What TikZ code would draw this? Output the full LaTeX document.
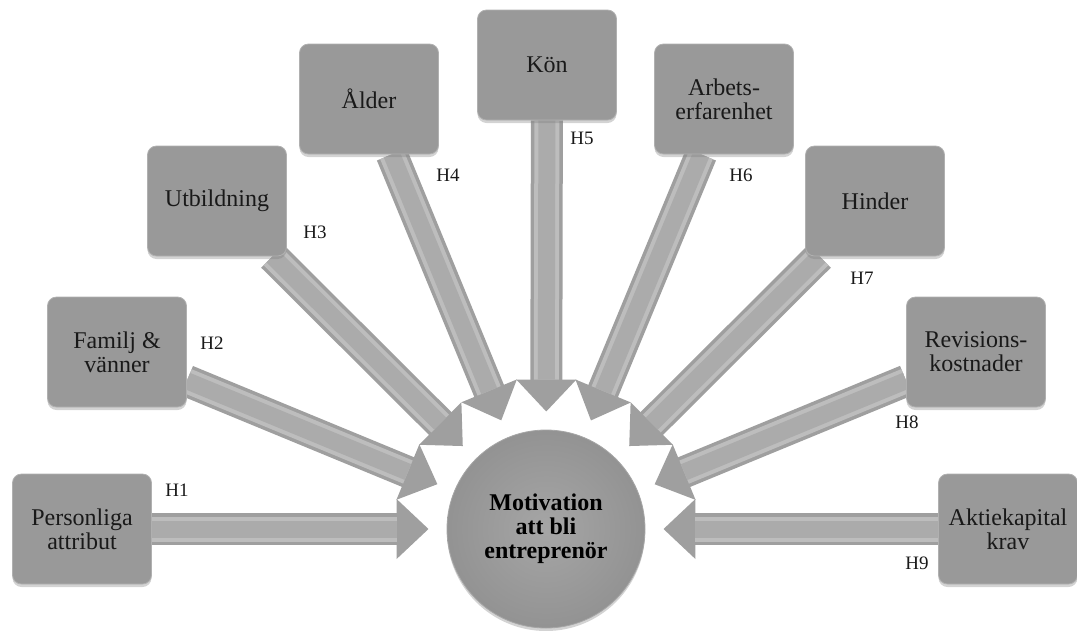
\documentclass[tikz,border=0pt]{standalone}
\usepackage{fontspec}
\setmainfont{Liberation Serif}
\usetikzlibrary{arrows.meta,shadows,backgrounds}

\begin{document}
\begin{tikzpicture}[
    x=1pt, y=-1pt,
    faktor/.style={rectangle, draw=gray!62, line width=0.8pt, fill=gray!80, minimum width=139pt, minimum height=110pt, rounded corners=9pt, align=center, text=black!90, font=\fontsize{24}{24}\selectfont, drop shadow={shadow xshift=0pt, shadow yshift=-3pt, opacity=0.35}},
    mal/.style={circle, draw=gray!70, line width=0.8pt, inner color=gray!70, outer color=gray!85, minimum size=198pt, align=center, font=\bfseries\fontsize{24}{24}\selectfont, drop shadow={shadow xshift=0pt, shadow yshift=-3pt, opacity=0.35}},
    hyp/.style={font=\fontsize{19}{20}\selectfont, text=black!90},
    pil/.style={line width=32pt, draw=gray!75, -{Triangle[width=58pt, length=32pt]}, shorten >=18pt,
        postaction={draw=gray!52, line width=25pt, -, shorten >=50pt},
        postaction={draw=gray!66, line width=17pt, -, shorten >=50pt}}
]
\useasboundingbox (0,0) rectangle (1077,630);

% Motivation (mitten)
\node[mal] (mot) at (546,529) {Motivation\\att bli\\entreprenör};

% Faktorer runt om
\node[faktor] (pers) at (82,529) {Personliga\\attribut};
\node[faktor] (fam) at (117,352) {Familj \&\\vänner};
\node[faktor] (utb) at (217,201) {Utbildning};
\node[faktor] (ald) at (369,99) {Ålder};
\node[faktor] (kon) at (547,65) {Kön};
\node[faktor] (arb) at (724,99) {Arbets-\\erfarenhet};
\node[faktor] (hin) at (875,201) {Hinder};
\node[faktor] (rev) at (976,352) {Revisions-\\kostnader};
\node[faktor] (akt) at (1008,529) {Aktiekapital\\krav};

% Hypoteser
\node[hyp] (h1) at (177,490) {H1};
\node[hyp] (h2) at (212,343) {H2};
\node[hyp] (h3) at (315,232) {H3};
\node[hyp] (h4) at (448,175) {H4};
\node[hyp] (h5) at (582,138) {H5};
\node[hyp] (h6) at (741,175) {H6};
\node[hyp] (h7) at (862,278) {H7};
\node[hyp] (h8) at (907,422) {H8};
\node[hyp] (h9) at (917,563) {H9};

% Pilar mot mitten
\begin{pgfonlayer}{background}
\draw[pil] (pers) -- (mot);
\draw[pil] (fam) -- (mot);
\draw[pil] (utb) -- (mot);
\draw[pil] (ald) -- (mot);
\draw[pil] (kon) -- (mot);
\draw[pil] (arb) -- (mot);
\draw[pil] (hin) -- (mot);
\draw[pil] (rev) -- (mot);
\draw[pil] (akt) -- (mot);
\end{pgfonlayer}

\end{tikzpicture}
\end{document}
